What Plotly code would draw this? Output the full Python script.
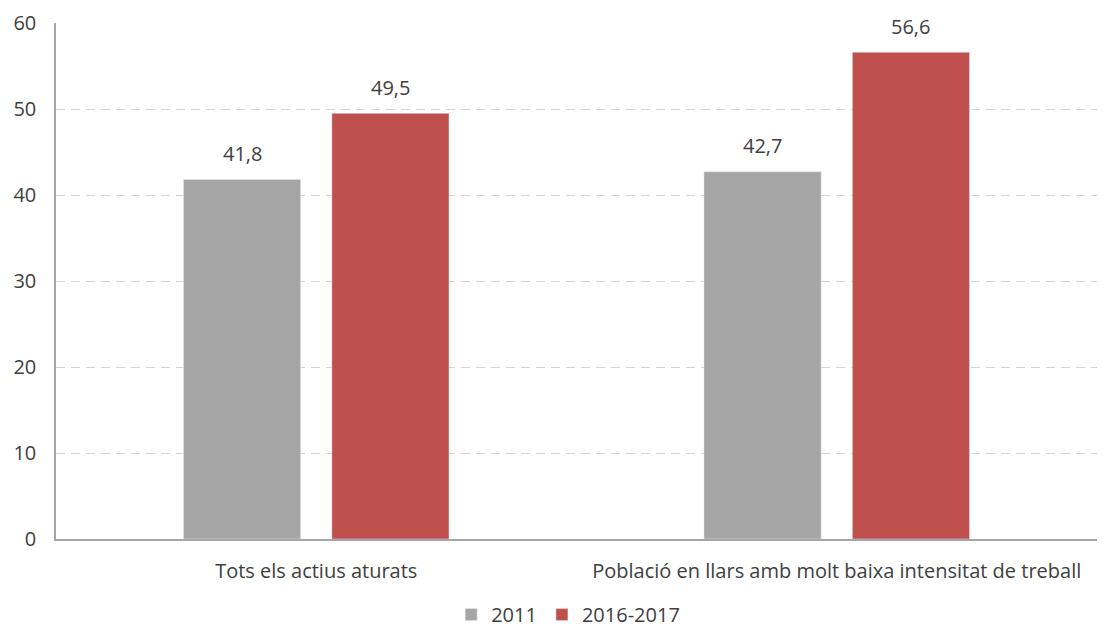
import plotly.graph_objects as go

categories = ["Tots els actius aturats", "Població en llars amb molt baixa intensitat de treball"]
vals_2011 = [41.8, 42.7]
vals_2016 = [49.5, 56.6]
y_ticks = [0, 10, 20, 30, 40, 50, 60]

FONT = "Open Sans, Liberation Sans, sans-serif"
TEXT = "#404040"
FS = 20

fig = go.Figure()
fig.add_trace(go.Bar(
    x=categories, y=vals_2011, name="2011",
    marker=dict(color="#a5a5a5"), offsetgroup="a",
))
fig.add_trace(go.Bar(
    x=categories, y=vals_2016, name="2016-2017",
    marker=dict(color="#c0504d"), offsetgroup="b",
))

# value labels above bars
for vals, shift in ((vals_2011, -74), (vals_2016, 74)):
    for cat, v in zip(categories, vals):
        fig.add_annotation(
            x=cat, y=v, text=f"{v:.1f}".replace(".", ","), showarrow=False,
            xshift=shift, yshift=26, font=dict(size=FS, color=TEXT),
        )

# page body adds 8px margin, so keep the figure 16px smaller than the window
fig.update_layout(
    width=1101, height=619,
    margin=dict(l=48, r=12, t=15, b=88),
    paper_bgcolor="white", plot_bgcolor="white",
    font=dict(family=FONT, size=FS, color=TEXT),
    barmode="group", bargap=0.43, bargroupgap=0.21,
    showlegend=True,
    legend=dict(orientation="h", x=0.492, xanchor="center", xref="paper",
                y=0.02, yanchor="middle", yref="container",
                font=dict(size=FS, color=TEXT)),
    xaxis=dict(showline=True, linecolor="#a6a6a6", linewidth=1.5, ticks="",
               tickfont=dict(size=FS, color=TEXT), showgrid=False,
               ticklabelstandoff=13, automargin=False),
    yaxis=dict(range=[0, 60], tickvals=y_ticks, showline=True, linecolor="#a6a6a6",
               linewidth=1.5, gridcolor="#d4d4d4", griddash="9px,6px", gridwidth=1.3,
               zeroline=False, ticks="", ticklabelstandoff=14, automargin=False,
               tickfont=dict(size=FS, color=TEXT)),
)

fig.write_html("out.html")
